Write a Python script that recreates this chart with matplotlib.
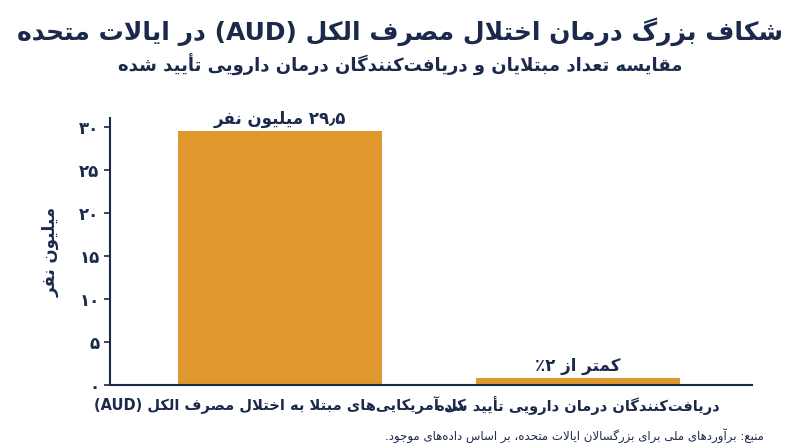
import matplotlib
matplotlib.use("Agg")
import matplotlib.pyplot as plt
import re

# ---- minimal Arabic/Persian shaping + visual ordering ----
F = {
 'ا':(0xFE8D,0xFE8E,None,None),'آ':(0xFE81,0xFE82,None,None),'أ':(0xFE83,0xFE84,None,None),
 'ب':(0xFE8F,0xFE90,0xFE91,0xFE92),'پ':(0xFB56,0xFB57,0xFB58,0xFB59),'ت':(0xFE95,0xFE96,0xFE97,0xFE98),
 'ث':(0xFE99,0xFE9A,0xFE9B,0xFE9C),'ج':(0xFE9D,0xFE9E,0xFE9F,0xFEA0),'چ':(0xFB7A,0xFB7B,0xFB7C,0xFB7D),
 'ح':(0xFEA1,0xFEA2,0xFEA3,0xFEA4),'خ':(0xFEA5,0xFEA6,0xFEA7,0xFEA8),'د':(0xFEA9,0xFEAA,None,None),
 'ذ':(0xFEAB,0xFEAC,None,None),'ر':(0xFEAD,0xFEAE,None,None),'ز':(0xFEAF,0xFEB0,None,None),
 'ژ':(0xFB8A,0xFB8B,None,None),'س':(0xFEB1,0xFEB2,0xFEB3,0xFEB4),'ش':(0xFEB5,0xFEB6,0xFEB7,0xFEB8),
 'ص':(0xFEB9,0xFEBA,0xFEBB,0xFEBC),'ض':(0xFEBD,0xFEBE,0xFEBF,0xFEC0),'ط':(0xFEC1,0xFEC2,0xFEC3,0xFEC4),
 'ظ':(0xFEC5,0xFEC6,0xFEC7,0xFEC8),'ع':(0xFEC9,0xFECA,0xFECB,0xFECC),'غ':(0xFECD,0xFECE,0xFECF,0xFED0),
 'ف':(0xFED1,0xFED2,0xFED3,0xFED4),'ق':(0xFED5,0xFED6,0xFED7,0xFED8),'ک':(0xFB8E,0xFB8F,0xFB90,0xFB91),
 'گ':(0xFB92,0xFB93,0xFB94,0xFB95),'ل':(0xFEDD,0xFEDE,0xFEDF,0xFEE0),'م':(0xFEE1,0xFEE2,0xFEE3,0xFEE4),
 'ن':(0xFEE5,0xFEE6,0xFEE7,0xFEE8),'و':(0xFEED,0xFEEE,None,None),'ه':(0xFEE9,0xFEEA,0xFEEB,0xFEEC),
 'ی':(0xFBFC,0xFBFD,0xFBFE,0xFBFF),
}
LAM_ALEF = {'ا':(0xFEFB,0xFEFC),'آ':(0xFEF5,0xFEF6),'أ':(0xFEF7,0xFEF8)}

def dual(c):
    return c in F and F[c][2] is not None

def shape(s):
    out = []
    i = 0
    n = len(s)
    while i < n:
        c = s[i]
        if c not in F:
            if c != '\u200c':
                out.append(c)
            i += 1
            continue
        jp = i > 0 and dual(s[i-1])
        if c == 'ل' and i + 1 < n and s[i+1] in LAM_ALEF:
            out.append(chr(LAM_ALEF[s[i+1]][1 if jp else 0]))
            i += 2
            continue
        jn = dual(c) and i + 1 < n and s[i+1] in F
        iso, fin, ini, med = F[c]
        if jp and jn: f = med
        elif jp: f = fin
        elif jn: f = ini
        else: f = iso
        out.append(chr(f))
        i += 1
    vis = ''.join(reversed(out))
    vis = re.sub(r'[A-Za-z0-9\u06F0-\u06F9\u066B]+', lambda m: m.group(0)[::-1], vis)
    vis = vis.translate(str.maketrans('()', ')('))
    return vis

def fa_num(v):
    return str(v).translate(str.maketrans('0123456789.', '۰۱۲۳۴۵۶۷۸۹٫'))

# ---- data ----
categories = ['کل آمریکایی‌های مبتلا به اختلال مصرف الکل (AUD)',
              'دریافت‌کنندگان درمان دارویی تأیید شده']
values = [29.5, 0.8]
bar_labels = ['۲۹٫۵ میلیون نفر', 'کمتر از ۲٪']
yticks = [0, 5, 10, 15, 20, 25, 30]
title = 'شکاف بزرگ درمان اختلال مصرف الکل (AUD) در ایالات متحده'
subtitle = 'مقایسه تعداد مبتلایان و دریافت‌کنندگان درمان دارویی تأیید شده'
ylabel = 'میلیون نفر'
source = 'منبع: برآوردهای ملی برای بزرگسالان ایالات متحده، بر اساس داده‌های موجود.'

navy = '#1b2a4a'
orange = '#E0982E'
plt.rcParams['font.family'] = ['DejaVu Sans']

fig = plt.figure(figsize=(8, 4.47), dpi=100)
ax = fig.add_axes([0.1375, 0.1387, 0.8025, 0.597])
x = list(range(len(values)))
ax.bar(x, values, width=0.685, color=orange)
ax.set_xlim(-0.570, 1.584)
ax.set_ylim(0, 31)
ax.set_yticks(yticks)
ax.set_yticklabels([fa_num(t) for t in yticks], fontsize=12, color=navy, fontweight='bold')
ax.set_xticks(x)
ax.set_xticklabels([shape(c) for c in categories], fontsize=10.5, color=navy, fontweight='bold')
ax.tick_params(axis='x', length=0, pad=8)
ax.tick_params(axis='y', length=4, color=navy, width=1.2)
for s in ['top', 'right']:
    ax.spines[s].set_visible(False)
for s in ['left', 'bottom']:
    ax.spines[s].set_color(navy)
    ax.spines[s].set_linewidth(1.5)
ax.set_ylabel(shape(ylabel), fontsize=12, color=navy, fontweight='bold', labelpad=14)
for xi, v, lab in zip(x, values, bar_labels):
    ax.text(xi, v + 0.4, shape(lab), ha='center', va='bottom', fontsize=12,
            color=navy, fontweight='bold')

fig.text(0.5, 0.93, shape(title), ha='center', va='center', fontsize=18,
         color=navy, fontweight='bold')
fig.text(0.5, 0.855, shape(subtitle), ha='center', va='center', fontsize=13,
         color=navy, fontweight='bold')
fig.text(0.955, 0.025, shape(source), ha='right', va='center', fontsize=8.5, color=navy)

fig.savefig('out.png', dpi=100, facecolor='white')
